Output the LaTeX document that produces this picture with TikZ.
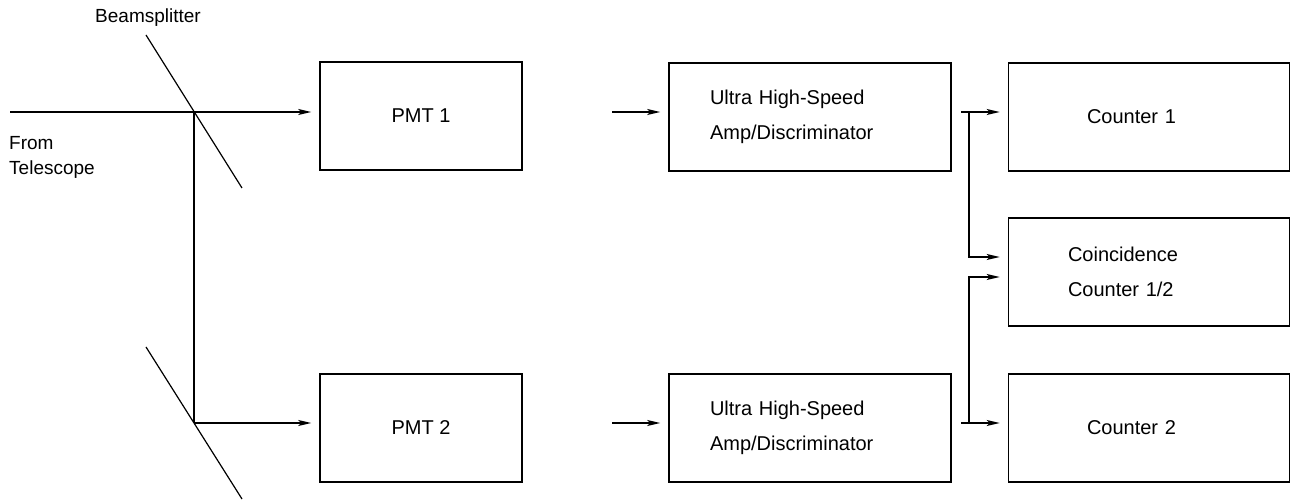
\documentclass[tikz,border=0pt]{standalone}
\usepackage{fontspec}
\setmainfont{Liberation Sans}
\usetikzlibrary{arrows.meta}
\begin{document}
\begin{tikzpicture}[x=1pt,y=-1pt,
  box/.style={draw,line width=1.6pt,minimum height=108pt,inner sep=0pt,
    font=\fontsize{20}{35}\selectfont},
  beam/.style={line width=1.4pt},
  arr/.style={line width=1.4pt,-{Stealth[length=13pt,width=6pt,inset=3pt]}},
  mirror/.style={line width=1.2pt},
  lbl/.style={font=\fontsize{19}{25}\selectfont,inner sep=0pt}]
\useasboundingbox (0,0) rectangle (1291,502);
% boxes
\node[box,minimum width=202pt] (pmt1) at (421,116) {PMT 1};
\node[box,minimum width=202pt] (pmt2) at (421,428) {PMT 2};
\node[box,minimum width=282pt,text width=200pt,align=left] (amp1) at (810,117)
  {Ultra High-Speed\\Amp/Discriminator};
\node[box,minimum width=282pt,text width=200pt,align=left] (amp2) at (810,428)
  {Ultra High-Speed\\Amp/Discriminator};
\node[box,minimum width=281pt,text width=124pt,align=left] (c1) at (1149,117) {Counter 1};
\node[box,minimum width=281pt,text width=162pt,align=left] (cc) at (1149,272)
  {Coincidence\\Counter 1/2};
\node[box,minimum width=281pt,text width=124pt,align=left] (c2) at (1149,428) {Counter 2};
% labels
\node[lbl] (bs) at (148,18) {Beamsplitter};
\node[lbl,anchor=west,align=left] (tel) at (9,157) {From\\Telescope};
% beam path and beamsplitters
\coordinate (src) at (10,112);
\coordinate (s1) at (194,112);
\coordinate (s2) at (194,423);
\coordinate (m1a) at (146,35);  \coordinate (m1b) at (242,188);
\coordinate (m2a) at (146,347); \coordinate (m2b) at (242,499);
\draw[mirror] (m1a) -- (m1b);
\draw[mirror] (m2a) -- (m2b);
\draw[beam] (src) -- (s1) -- (s2);
\draw[arr] (s1) -- ([xshift=-8pt]pmt1.west |- s1);
\draw[arr] (s2) -- ([xshift=-8pt]pmt2.west |- s2);
% PMT to amplifier
\coordinate (p1o) at (612,112);
\coordinate (p2o) at (612,423);
\draw[arr] (p1o) -- ([xshift=-8pt]amp1.west |- p1o);
\draw[arr] (p2o) -- ([xshift=-8pt]amp2.west |- p2o);
% amplifier outputs to counters
\coordinate (a1o) at (961,112);
\coordinate (a2o) at (961,423);
\coordinate (j1) at (969,112);
\coordinate (j2) at (969,423);
\coordinate (k1) at (969,257);
\coordinate (k2) at (969,277);
\draw[arr] (a1o) -- ([xshift=-8pt]c1.west |- a1o);
\draw[arr] (a2o) -- ([xshift=-8pt]c2.west |- a2o);
\draw[arr] (j1) -- (k1) -- ([xshift=-8pt]cc.west |- k1);
\draw[arr] (j2) -- (k2) -- ([xshift=-8pt]cc.west |- k2);
\end{tikzpicture}
\end{document}
